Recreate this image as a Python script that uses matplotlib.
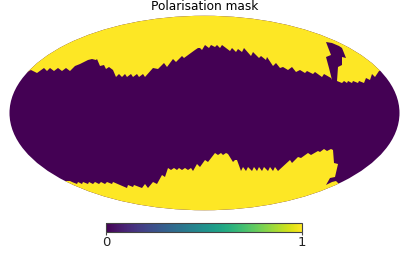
import numpy as np
import matplotlib
matplotlib.use("Agg")
import matplotlib.pyplot as plt
from matplotlib.patches import Ellipse, Polygon
from matplotlib.cm import ScalarMappable
from matplotlib.colors import Normalize

title = "Polarisation mask"
cbar_ticks = [0, 1]
mask_values = [0, 1]

north_x = [26, 29, 31, 37, 44, 47, 50, 54, 58, 62, 66, 70, 75, 80, 84, 88, 92, 96, 97, 100, 104, 106, 109, 113,
           116, 119, 122, 125, 127, 131, 133, 137, 139, 143, 145, 153, 158, 164, 167, 173, 176, 182, 184, 195,
           198, 200, 202, 205, 209, 211, 215, 217, 220, 222, 230, 232, 236, 238, 242, 244, 251, 253, 259, 261,
           266, 267, 273, 276, 280, 283, 288, 292, 296, 300, 305, 307, 313, 315, 322, 324, 331, 332, 329, 326,
           331, 326, 332, 339, 342, 346, 342, 342, 338, 337, 342, 344, 347, 348, 352, 353, 358, 359, 364, 366,
           370, 372, 375, 379, 382]
north_y = [73, 71, 70, 73, 68, 71, 68, 71, 68, 71, 68, 71, 66, 64, 62, 60, 59, 60, 59, 66, 65, 69, 67, 70,
           77, 74, 77, 74, 77, 74, 77, 74, 77, 74, 77, 68, 69, 63, 67, 59, 62, 56, 58, 50,
           48, 48, 50, 45, 48, 45, 47, 45, 48, 45, 51, 48, 52, 49, 52, 48, 56, 52, 58, 56,
           60, 57, 66, 63, 68, 67, 70, 67, 72, 70, 73, 71, 74, 72, 77, 74, 78, 80, 68, 57,
           55, 42, 43, 46, 48, 58, 57, 65, 67, 81, 83, 81, 83, 81, 83, 81, 83, 81, 83, 78,
           80, 74, 77, 71, 70]
south_x = [70, 72, 77, 78, 82, 83, 88, 89, 93, 95, 99, 101, 105, 107, 112, 113, 127, 128, 133, 134, 142, 145, 148,
           153, 157, 162, 165, 168, 171, 174, 177, 179, 182, 185, 188, 191, 193, 197, 200, 205, 208, 215, 218, 221,
           223, 226, 228, 233, 235, 237, 241, 243, 246, 248, 252, 254, 257, 259, 262, 264, 268, 270, 273, 275, 278,
           290, 292, 298, 301, 308, 311, 318, 320, 324, 327, 331, 333, 334, 338, 335, 330, 326, 332, 336, 338, 341]
south_y = [181, 182, 184, 182, 184, 182, 184, 182, 184, 182, 184, 182, 184, 182, 184, 182, 188, 185, 187, 185, 188, 184, 188,
           182, 184, 175, 177, 168, 170, 168, 170, 168, 170, 168, 170, 168, 171, 164, 167, 160, 162, 153, 155, 153,
           155, 153, 154, 162, 160, 160, 171, 167, 171, 167, 171, 167, 171, 167, 171, 167, 171, 167, 171, 167, 171,
           160, 163, 157, 158, 153, 155, 151, 152, 149, 151, 149, 150, 163, 164, 177, 178, 185, 182, 181, 183, 186]

W, H = 409, 260
fig = plt.figure(figsize=(W / 100, H / 100), dpi=100)
ax = fig.add_axes([0, 0, 1, 1])
ax.set_xlim(0, W)
ax.set_ylim(H, 0)
ax.axis("off")

cmap = plt.get_cmap("viridis")
norm = Normalize(min(mask_values), max(mask_values))
low, high = cmap(norm(mask_values[0])), cmap(norm(mask_values[1]))

sky = Ellipse((204.5, 113), 390, 194.5, facecolor=low, edgecolor="none")
ax.add_patch(sky)
north = Polygon(list(zip(north_x, north_y)) + [(W, 70), (W, 0), (0, 0), (0, 73)],
                closed=True, facecolor=high, edgecolor="none")
south = Polygon(list(zip(south_x, south_y)) + [(W, 186), (W, H), (0, H), (0, 181)],
                closed=True, facecolor=high, edgecolor="none")
for patch in (north, south):
    ax.add_patch(patch)
    patch.set_clip_path(sky)

ax.text(204.5, 7, title, ha="center", va="center", fontsize=8.7, color="black")

cax = fig.add_axes([106 / W, 1 - 231.5 / H, 196 / W, 8.5 / H])
cb = fig.colorbar(ScalarMappable(norm=norm, cmap=cmap), cax=cax, orientation="horizontal")
cb.set_ticks(cbar_ticks)
cb.set_ticklabels([str(t) for t in cbar_ticks])
cb.ax.tick_params(labelsize=9.5, length=2.5, width=0.8, pad=0.5, color="#444444", labelcolor="#222222")
cb.outline.set_linewidth(0.8)
cb.outline.set_edgecolor("#444444")

fig.savefig("out.png", dpi=100)
